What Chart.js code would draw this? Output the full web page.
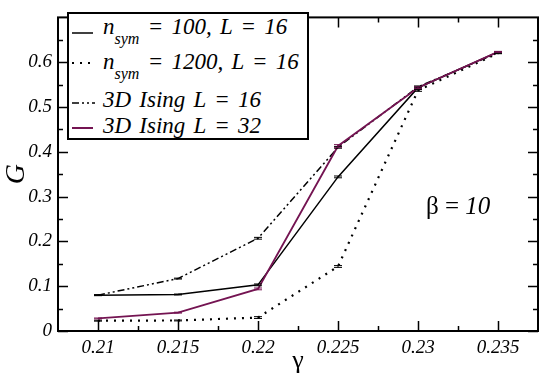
<!DOCTYPE html>
<html><head><meta charset="utf-8">
<script src="https://cdn.jsdelivr.net/npm/chart.js@4.4.1/dist/chart.umd.min.js"></script>
<style>
html,body{margin:0;padding:0;background:#fff;}
#wrap{position:relative;width:540px;height:377px;overflow:hidden;}
#chart{position:absolute;left:0;top:0;}
#legend{position:absolute;left:67px;top:12px;width:238px;height:124px;border:2px solid #000;background:#fff;
  font-family:'Liberation Serif','Times New Roman',Tinos,'DejaVu Serif','Noto Serif',serif;font-style:italic;font-size:23px;word-spacing:2.5px;color:#000;}
#legend svg{position:absolute;left:0;top:0;}
.row{position:absolute;left:34px;white-space:nowrap;line-height:1;}
.sub{font-size:16px;position:relative;top:10px;word-spacing:0;}
#beta{position:absolute;left:426px;top:193px;font-family:'Liberation Serif','Times New Roman',Tinos,'DejaVu Serif','Noto Serif',serif;font-size:25px;line-height:1;white-space:nowrap;color:#000;}
</style></head>
<body>
<div id="wrap">
<canvas id="chart" width="540" height="377"></canvas>
<div id="legend">
  <svg width="238" height="124">
    <line x1="3" y1="19" x2="24" y2="19" stroke="#000" stroke-width="1.5"/>
    <line x1="3" y1="49" x2="26" y2="49" stroke="#000" stroke-width="2" stroke-dasharray="2,6"/>
    <line x1="3" y1="89" x2="26" y2="89" stroke="#000" stroke-width="1.5" stroke-dasharray="7,3,2,3,2,3"/>
    <line x1="3" y1="114" x2="24" y2="114" stroke="#741452" stroke-width="2"/>
  </svg>
  <div class="row" style="top:1px">n<span class="sub">sym</span> = 100, L = 16</div>
  <div class="row" style="top:36px">n<span class="sub">sym</span> = 1200, L = 16</div>
  <div class="row" style="top:74px">3D Ising L = 16</div>
  <div class="row" style="top:100px">3D Ising L = 32</div>
</div>
<div id="beta">β = <i>10</i></div>
</div>
<script>
// ---- data ----
const gammaValues = [0.21, 0.215, 0.22, 0.225, 0.23, 0.235];
const gNsym100   = [0.080, 0.0815, 0.103, 0.344, 0.543, 0.623];
const gNsym1200  = [0.023, 0.0235, 0.030, 0.144, 0.537, 0.620];
const gIsing16   = [0.080, 0.117, 0.207, 0.410, 0.545, 0.621];
const gIsing32   = [0.028, 0.041, 0.094, 0.413, 0.543, 0.623];
const errNsym100  = [0.001, 0.001, 0.002, 0.002, 0.002, 0.001];
const errNsym1200 = [0.001, 0.001, 0.002, 0.002, 0.002, 0.001];
const errIsing16  = [0.001, 0.001, 0.002, 0.002, 0.002, 0.001];
const errIsing32  = [0.001, 0.001, 0.002, 0.003, 0.002, 0.001];
const xTickValues = [0.21, 0.215, 0.22, 0.225, 0.23, 0.235];
const xTickLabels = ['0.21', '0.215', '0.22', '0.225', '0.23', '0.235'];
const yTickValues = [0, 0.1, 0.2, 0.3, 0.4, 0.5, 0.6];
const yTickLabels = ['0', '0.1', '0.2', '0.3', '0.4', '0.5', '0.6'];
const xMinorValues = [0.2125, 0.2175, 0.2225, 0.2275, 0.2325];
const yMinorValues = [0.05, 0.15, 0.25, 0.35, 0.45, 0.55, 0.65];

const pts = (ys) => gammaValues.map((x, i) => ({x: x, y: ys[i]}));
const SERIF = "'Liberation Serif','Times New Roman',Tinos,'DejaVu Serif','Noto Serif',serif";
const PURPLE = '#741452';

const frameTicks = {
  id: 'frameTicks',
  afterDraw(chart) {
    const {ctx, chartArea: a, scales: {x, y}} = chart;
    ctx.save();
    ctx.strokeStyle = '#000';
    ctx.lineWidth = 1.5;
    ctx.beginPath();
    const tick = (px, len, vertical) => {
      if (vertical) {
        ctx.moveTo(px, a.bottom); ctx.lineTo(px, a.bottom - len);
        ctx.moveTo(px, a.top); ctx.lineTo(px, a.top + len);
      } else {
        ctx.moveTo(a.left, px); ctx.lineTo(a.left + len, px);
        ctx.moveTo(a.right, px); ctx.lineTo(a.right - len, px);
      }
    };
    xTickValues.forEach(v => tick(Math.round(x.getPixelForValue(v)) + 0.5, 10, true));
    xMinorValues.forEach(v => tick(Math.round(x.getPixelForValue(v)) + 0.5, 5, true));
    yTickValues.forEach(v => tick(Math.round(y.getPixelForValue(v)) + 0.5, 10, false));
    yMinorValues.forEach(v => tick(Math.round(y.getPixelForValue(v)) + 0.5, 5, false));
    ctx.stroke();
    ctx.lineWidth = 2;
    ctx.strokeRect(a.left, a.top, a.right - a.left, a.bottom - a.top);
    ctx.restore();
  }
};

const errorBars = {
  id: 'errorBars',
  afterDatasetsDraw(chart) {
    const {ctx, scales: {x, y}} = chart;
    ctx.save();
    chart.data.datasets.forEach(ds => {
      ctx.strokeStyle = ds.borderColor;
      ctx.lineWidth = 1;
      ctx.beginPath();
      ds.data.forEach((p, i) => {
        const e = ds.errors[i];
        const px = x.getPixelForValue(p.x);
        const y1 = y.getPixelForValue(p.y - e), y2 = y.getPixelForValue(p.y + e);
        ctx.moveTo(px, y1); ctx.lineTo(px, y2);
        ctx.moveTo(px - 4, y1); ctx.lineTo(px + 4, y1);
        ctx.moveTo(px - 4, y2); ctx.lineTo(px + 4, y2);
      });
      ctx.stroke();
    });
    ctx.restore();
  }
};

new Chart(document.getElementById('chart'), {
  type: 'line',
  data: {
    datasets: [
      {label: 'n_sym = 100, L = 16', data: pts(gNsym100), errors: errNsym100,
       borderColor: '#000', borderWidth: 1.5, order: 1},
      {label: 'n_sym = 1200, L = 16', data: pts(gNsym1200), errors: errNsym1200,
       borderColor: '#000', borderWidth: 2.2, borderDash: [2, 6], order: 2},
      {label: '3D Ising L = 16', data: pts(gIsing16), errors: errIsing16,
       borderColor: '#000', borderWidth: 1.5, borderDash: [7, 3, 2, 3, 2, 3], order: 3},
      {label: '3D Ising L = 32', data: pts(gIsing32), errors: errIsing32,
       borderColor: PURPLE, borderWidth: 1.8, order: 0}
    ]
  },
  options: {
    responsive: false,
    animation: false,
    devicePixelRatio: 1,
    layout: {padding: {top: 2, right: 2, left: 0, bottom: 0}},
    elements: {point: {radius: 0, hoverRadius: 0}, line: {tension: 0, fill: false}},
    plugins: {legend: {display: false}, tooltip: {enabled: false}},
    scales: {
      x: {
        type: 'linear', min: 0.2075, max: 0.2375,
        afterBuildTicks: s => { s.ticks = xTickValues.map(v => ({value: v})); },
        afterFit: s => { s.height = 46; },
        grid: {display: false, drawTicks: false},
        border: {display: false},
        ticks: {
          autoSkip: false, maxRotation: 0, padding: 6, color: '#000',
          font: {family: SERIF, size: 19, style: 'italic'},
          callback: (v) => xTickLabels[xTickValues.indexOf(v)]
        },
        title: {display: true, text: 'γ', color: '#000', padding: {top: 0, bottom: 0},
                font: {family: SERIF, size: 26}}
      },
      y: {
        type: 'linear', min: 0, max: 0.7,
        afterBuildTicks: s => { s.ticks = yTickValues.map(v => ({value: v})); },
        afterFit: s => { s.width = 58; },
        grid: {display: false, drawTicks: false},
        border: {display: false},
        ticks: {
          autoSkip: false, padding: 6, color: '#000',
          font: {family: SERIF, size: 19, style: 'italic'},
          callback: (v) => yTickLabels[yTickValues.indexOf(v)]
        },
        title: {display: true, text: 'G', color: '#000', padding: {top: 0, bottom: 0},
                font: {family: SERIF, size: 28, style: 'italic'}}
      }
    }
  },
  plugins: [frameTicks, errorBars]
});
</script>
</body></html>
